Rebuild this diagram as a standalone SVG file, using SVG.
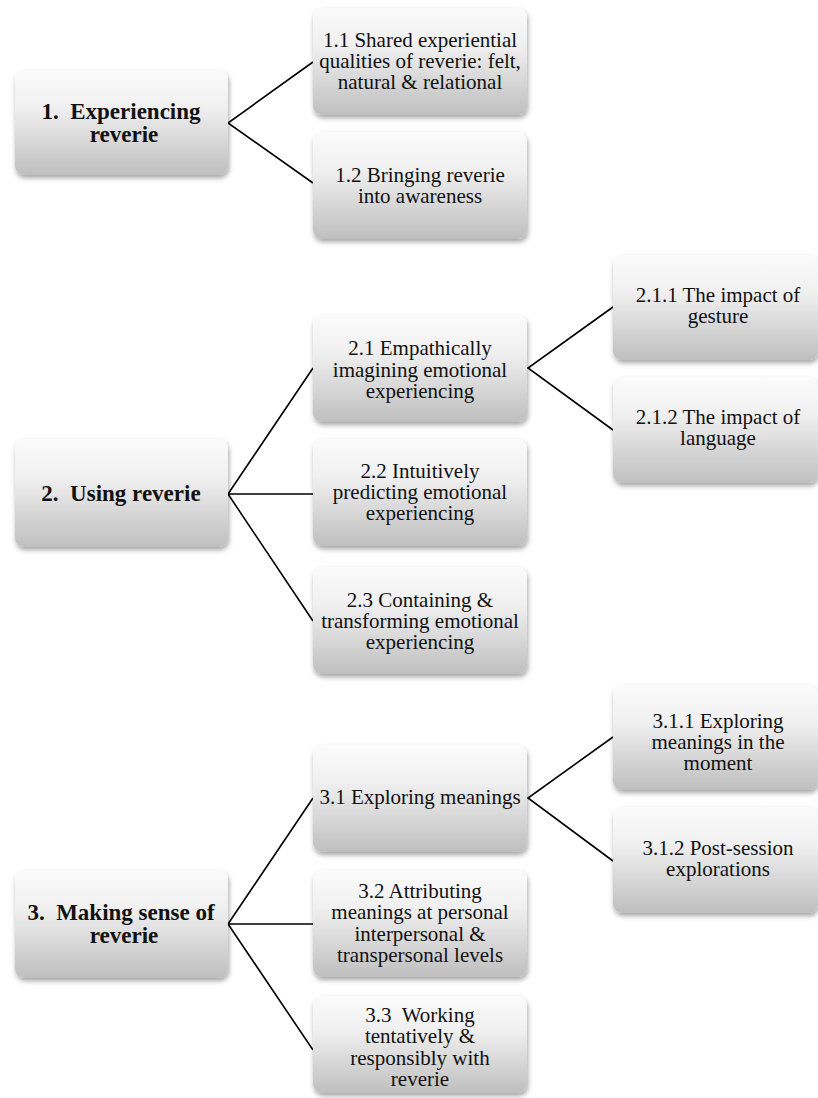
<svg xmlns="http://www.w3.org/2000/svg" width="818" height="1098" viewBox="0 0 818 1098">
<defs>
<linearGradient id="g" x1="0" y1="0" x2="0" y2="1">
<stop offset="0" stop-color="#fbfbfb"/>
<stop offset="0.35" stop-color="#f0f0f0"/>
<stop offset="1" stop-color="#bfbfbf"/>
</linearGradient>
<filter id="sh" x="-10%" y="-10%" width="125%" height="130%">
<feDropShadow dx="1" dy="3" stdDeviation="2.5" flood-color="#000" flood-opacity="0.35"/>
</filter>
</defs>
<style>
.box{fill:url(#g);filter:url(#sh);}
.t{font-family:'Liberation Serif','DejaVu Serif',serif;font-size:21px;fill:#111;text-anchor:middle;}
.b{font-family:'Liberation Serif','DejaVu Serif',serif;font-size:23px;font-weight:bold;fill:#111;text-anchor:middle;}
.c{stroke:#000;stroke-width:1.6;fill:none;}
</style>
<rect width="818" height="1098" fill="#fff"/>
<g id="connectors">
<path class="c" d="M313,62 L228,123 L313,183"/>
<path class="c" d="M313,368 L228,494 L313,621 M228,494 L313,494"/>
<path class="c" d="M613,307 L528,368 L613,430"/>
<path class="c" d="M313,798 L228,924 L313,1050 M228,924 L313,924"/>
<path class="c" d="M613,737 L528,798 L613,861"/>
</g>
<g id="n1">
<rect class="box" x="15" y="70" width="213" height="105" rx="9"/>
<text class="b" font-family="Liberation Serif, serif" xml:space="preserve"><tspan x="121" y="119">1.  Experiencing</tspan><tspan x="124" y="142">reverie</tspan></text>
</g>
<g id="n1_1">
<rect class="box" x="313" y="8" width="214" height="107" rx="9"/>
<text class="t" font-family="Liberation Serif, serif"><tspan x="420" y="47">1.1 Shared experiential</tspan><tspan x="420" y="68">qualities of reverie: felt,</tspan><tspan x="420" y="89">natural &amp; relational</tspan></text>
</g>
<g id="n1_2">
<rect class="box" x="313" y="132" width="214" height="107" rx="9"/>
<text class="t" font-family="Liberation Serif, serif"><tspan x="420" y="182">1.2 Bringing reverie</tspan><tspan x="420" y="203">into awareness</tspan></text>
</g>
<g id="n2">
<rect class="box" x="15" y="439" width="213" height="108" rx="9"/>
<text class="b" font-family="Liberation Serif, serif" xml:space="preserve"><tspan x="121" y="501">2.  Using reverie</tspan></text>
</g>
<g id="n2_1">
<rect class="box" x="313" y="315" width="214" height="107" rx="9"/>
<text class="t" font-family="Liberation Serif, serif"><tspan x="420" y="355">2.1 Empathically</tspan><tspan x="420" y="377">imagining emotional</tspan><tspan x="420" y="398">experiencing</tspan></text>
</g>
<g id="n2_2">
<rect class="box" x="313" y="439" width="214" height="107" rx="9"/>
<text class="t" font-family="Liberation Serif, serif"><tspan x="420" y="478">2.2 Intuitively</tspan><tspan x="420" y="499">predicting emotional</tspan><tspan x="420" y="520">experiencing</tspan></text>
</g>
<g id="n2_3">
<rect class="box" x="313" y="567" width="214" height="107" rx="9"/>
<text class="t" font-family="Liberation Serif, serif"><tspan x="420" y="607">2.3 Containing &amp;</tspan><tspan x="420" y="628">transforming emotional</tspan><tspan x="420" y="649">experiencing</tspan></text>
</g>
<g id="n2_1_1">
<rect class="box" x="613" y="255" width="205" height="105" rx="9"/>
<text class="t" font-family="Liberation Serif, serif"><tspan x="718" y="302">2.1.1 The impact of</tspan><tspan x="718" y="323">gesture</tspan></text>
</g>
<g id="n2_1_2">
<rect class="box" x="613" y="377" width="205" height="106" rx="9"/>
<text class="t" font-family="Liberation Serif, serif"><tspan x="718" y="424">2.1.2 The impact of</tspan><tspan x="718" y="445">language</tspan></text>
</g>
<g id="n3">
<rect class="box" x="15" y="870" width="213" height="108" rx="9"/>
<text class="b" font-family="Liberation Serif, serif" xml:space="preserve"><tspan x="121" y="920">3.  Making sense of</tspan><tspan x="124" y="943">reverie</tspan></text>
</g>
<g id="n3_1">
<rect class="box" x="313" y="745" width="214" height="107" rx="9"/>
<text class="t" font-family="Liberation Serif, serif"><tspan x="420" y="804">3.1 Exploring meanings</tspan></text>
</g>
<g id="n3_2">
<rect class="box" x="313" y="870" width="214" height="107" rx="9"/>
<text class="t" font-family="Liberation Serif, serif"><tspan x="420" y="898">3.2 Attributing</tspan><tspan x="420" y="919">meanings at personal</tspan><tspan x="420" y="941">interpersonal &amp;</tspan><tspan x="420" y="962">transpersonal levels</tspan></text>
</g>
<g id="n3_3">
<rect class="box" x="313" y="996" width="214" height="97" rx="9"/>
<text class="t" font-family="Liberation Serif, serif" xml:space="preserve"><tspan x="420" y="1022">3.3  Working</tspan><tspan x="420" y="1043">tentatively &amp;</tspan><tspan x="420" y="1065">responsibly with</tspan><tspan x="420" y="1086">reverie</tspan></text>
</g>
<g id="n3_1_1">
<rect class="box" x="613" y="685" width="205" height="105" rx="9"/>
<text class="t" font-family="Liberation Serif, serif"><tspan x="718" y="728">3.1.1 Exploring</tspan><tspan x="718" y="749">meanings in the</tspan><tspan x="718" y="770">moment</tspan></text>
</g>
<g id="n3_1_2">
<rect class="box" x="613" y="807" width="205" height="106" rx="9"/>
<text class="t" font-family="Liberation Serif, serif"><tspan x="718" y="855">3.1.2 Post-session</tspan><tspan x="718" y="876">explorations</tspan></text>
</g>
</svg>
